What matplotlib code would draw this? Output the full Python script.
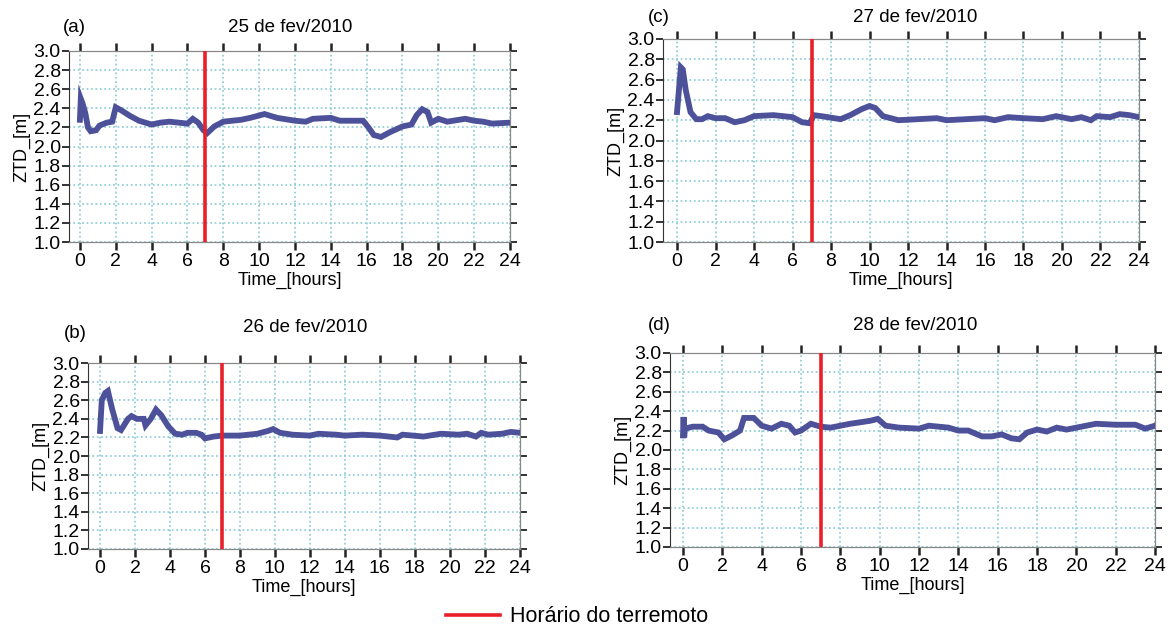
import matplotlib
matplotlib.use("Agg")
import matplotlib.pyplot as plt
from matplotlib.lines import Line2D

plt.rcParams['font.family'] = ['Liberation Sans', 'DejaVu Sans']

# ZTD series (hours, metres)
t_a = [0, 0.05, 0.15, 0.3, 0.45, 0.6, 0.9, 1.1, 1.5, 1.8, 2.0, 2.3, 2.8, 3.3, 4.0, 4.5, 5.0, 5.5,
       6.0, 6.3, 6.6, 6.9, 7.1, 7.5, 8.0, 9.0, 9.5, 10.3, 11.0, 12.0, 12.6, 13.0, 14.0, 14.5,
       15.0, 15.8, 16.1, 16.4, 16.8, 17.3, 18.0, 18.5, 18.8, 19.1, 19.4, 19.6, 20.0, 20.5,
       21.5, 22.0, 22.5, 23.0, 24.0]
ztd_a = [2.28, 2.5, 2.45, 2.35, 2.2, 2.16, 2.17, 2.22, 2.25, 2.26, 2.41, 2.38, 2.32, 2.27, 2.23,
         2.25, 2.26, 2.25, 2.24, 2.29, 2.25, 2.17, 2.14, 2.21, 2.26, 2.28, 2.3, 2.34, 2.3, 2.27,
         2.26, 2.29, 2.3, 2.27, 2.27, 2.27, 2.2, 2.12, 2.1, 2.15, 2.21, 2.23, 2.33, 2.39, 2.36,
         2.25, 2.29, 2.26, 2.29, 2.27, 2.26, 2.24, 2.25]

t_b = [0, 0.1, 0.3, 0.45, 0.7, 1.0, 1.2, 1.6, 1.8, 2.1, 2.5, 2.6, 2.9, 3.2, 3.5, 3.9, 4.3, 4.7,
       5.0, 5.5, 5.8, 6.0, 6.5, 7.0, 8.0, 9.0, 9.6, 9.9, 10.3, 11.0, 12.0, 12.5, 13.5, 14.0,
       15.0, 16.0, 17.0, 17.3, 18.5, 19.5, 20.5, 21.0, 21.5, 21.8, 22.2, 23.0, 23.5, 24.0]
ztd_b = [2.27, 2.6, 2.68, 2.7, 2.5, 2.3, 2.28, 2.4, 2.43, 2.4, 2.4, 2.33, 2.4, 2.5, 2.44, 2.32,
         2.24, 2.23, 2.25, 2.25, 2.23, 2.19, 2.21, 2.22, 2.22, 2.24, 2.27, 2.29, 2.25, 2.23,
         2.22, 2.24, 2.23, 2.22, 2.23, 2.22, 2.2, 2.23, 2.21, 2.24, 2.23, 2.24, 2.21, 2.25,
         2.23, 2.24, 2.26, 2.25]

t_c = [0, 0.1, 0.2, 0.3, 0.45, 0.7, 1.0, 1.3, 1.6, 2.0, 2.5, 3.0, 3.5, 4.0, 5.0, 6.0, 6.5, 6.9,
       7.1, 7.5, 8.5, 9.0, 9.6, 10.0, 10.3, 10.7, 11.5, 12.5, 13.5, 14.0, 15.0, 16.0, 16.5,
       17.2, 18.0, 19.0, 19.7, 20.5, 21.0, 21.5, 21.8, 22.5, 23.0, 23.5, 24.0]
ztd_c = [2.28, 2.5, 2.72, 2.7, 2.5, 2.28, 2.21, 2.21, 2.24, 2.22, 2.22, 2.18, 2.2, 2.24, 2.25,
         2.23, 2.18, 2.17, 2.25, 2.24, 2.21, 2.25, 2.31, 2.34, 2.32, 2.24, 2.2, 2.21, 2.22,
         2.2, 2.21, 2.22, 2.2, 2.23, 2.22, 2.21, 2.24, 2.21, 2.23, 2.2, 2.24, 2.23, 2.26,
         2.25, 2.23]

t_d = [0, 0.03, 0.06, 0.1, 0.5, 1.0, 1.3, 1.8, 2.1, 2.5, 2.9, 3.1, 3.6, 4.0, 4.5, 5.0, 5.4,
       5.7, 6.0, 6.5, 7.0, 7.5, 8.5, 9.5, 9.9, 10.3, 11.0, 12.0, 12.5, 13.5, 14.0, 14.5,
       15.2, 15.7, 16.2, 16.7, 17.1, 17.5, 18.0, 18.5, 19.0, 19.5, 20.0, 20.5, 21.0, 22.0,
       23.0, 23.5, 24.0]
ztd_d = [2.15, 2.34, 2.13, 2.22, 2.24, 2.24, 2.2, 2.18, 2.11, 2.15, 2.2, 2.33, 2.33, 2.25,
         2.22, 2.27, 2.25, 2.18, 2.2, 2.27, 2.24, 2.23, 2.27, 2.3, 2.32, 2.25, 2.23, 2.22,
         2.25, 2.23, 2.2, 2.2, 2.14, 2.14, 2.16, 2.12, 2.11, 2.18, 2.21, 2.19, 2.23, 2.21,
         2.23, 2.25, 2.27, 2.26, 2.26, 2.22, 2.25]

labels = ["(a)", "(b)", "(c)", "(d)"]
titles = ["25 de fev/2010", "26 de fev/2010", "27 de fev/2010", "28 de fev/2010"]
quake_hour = 7

W, H = 1173, 628
# axes boxes in figure fraction, plus left x limit
boxes = [[0.0588, 0.6146, 0.376, 0.3042],
         [0.075, 0.1258, 0.368, 0.296],
         [0.5652, 0.6146, 0.4058, 0.3233],
         [0.5712, 0.129, 0.4135, 0.309]]
xleft = [-0.61, -0.69, -0.73, -0.66]
# title centre and panel-label position, pixels from top-left
title_xy = [(290, 27), (305, 328), (915, 18), (915, 325)]
label_xy = [(63, 27), (64, 334), (648, 18), (648, 325)]
series = [(t_a, ztd_a), (t_b, ztd_b), (t_c, ztd_c), (t_d, ztd_d)]

fig = plt.figure(figsize=(11.73, 6.28), dpi=100)

for i in range(4):
    ax = fig.add_axes(boxes[i])
    t, z = series[i]
    ax.plot(t, z, color='#4d5199', lw=4.2, solid_joinstyle='miter', zorder=3)
    ax.axvline(quake_hour, color='#e8202a', lw=2.6, zorder=4)
    ax.set_xlim(xleft[i], 24)
    ax.set_ylim(1.0, 3.0)
    ax.set_xticks(range(0, 25, 2))
    ax.set_yticks([1.0 + 0.2 * k for k in range(11)])
    ax.set_yticklabels(["%.1f" % (1.0 + 0.2 * k) for k in range(11)])
    ax.grid(True, linestyle=':', color='#86c9d3', lw=1.2)
    ax.tick_params(axis='x', which='both', direction='out', length=6, width=1.8,
                   top=True, bottom=True, labelsize=14, pad=2, color='#222222')
    ax.tick_params(axis='y', which='both', direction='out', length=5, width=1.3,
                   left=True, right=True, labelsize=14, pad=1, color='#222222')
    ax.spines['left'].set_color('#333333')
    for s in ['top', 'bottom', 'right']:
        ax.spines[s].set_color('#888888')
        ax.spines[s].set_linewidth(0.9)
    ax.set_xlabel("Time_[hours]", fontsize=13, labelpad=1)
    ax.set_ylabel("ZTD_[m]", fontsize=13, labelpad=2)
    tx, ty = title_xy[i]
    fig.text(tx / W, 1 - ty / H, titles[i], fontsize=13.5, ha='center', va='center')
    lx, ly = label_xy[i]
    fig.text(lx / W, 1 - ly / H, labels[i], fontsize=13.5, ha='left', va='center')

handle = [Line2D([], [], color='#e8202a', lw=2.6)]
fig.legend(handle, ["Horário do terremoto"], loc='center', bbox_to_anchor=(0.492, 0.018),
           frameon=False, fontsize=15.5, handlelength=2.5, handletextpad=0.5)

fig.savefig("out.png", dpi=100)
